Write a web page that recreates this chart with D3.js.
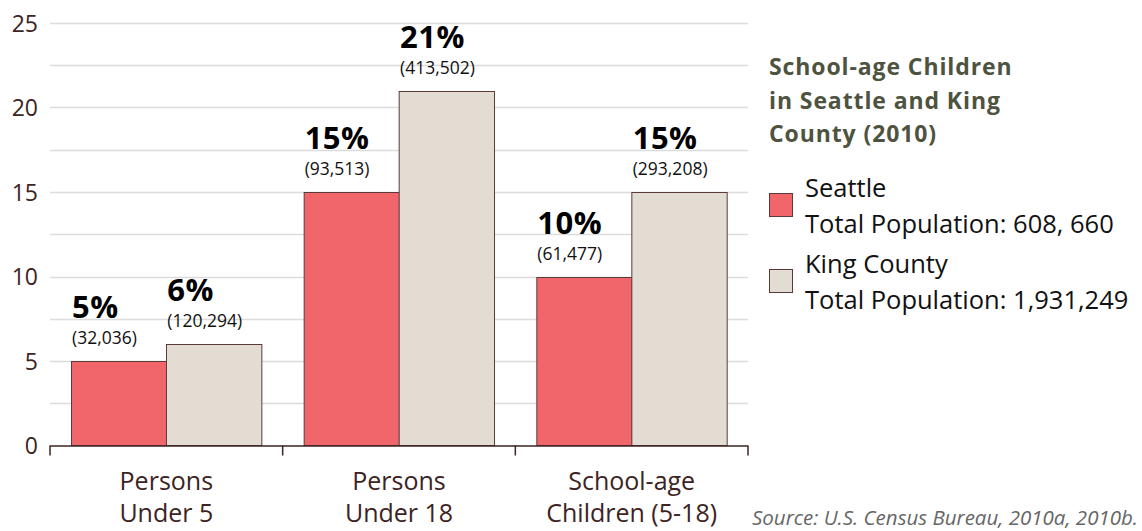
<!DOCTYPE html>
<html><head><meta charset="utf-8">
<script src="https://cdn.jsdelivr.net/npm/d3@7"></script>
<style>
body{margin:0;background:#fff;}
text{font-family:"Open Sans","Noto Sans",sans-serif;}
</style></head>
<body><svg id="chart" width="1142" height="531"></svg>
<script>
const categories = [["Persons","Under 5"],["Persons","Under 18"],["School-age","Children (5-18)"]];
const seriesNames = ["Seattle","King County"];
const seattleValues = [5,15,10];
const kingValues = [6,21,15];
const seattleCounts = ["(32,036)","(93,513)","(61,477)"];
const kingCounts = ["(120,294)","(413,502)","(293,208)"];
const yTicks = [0,5,10,15,20,25];
const gridValues = [2.5,5,7.5,10,12.5,15,17.5,20,22.5,25];
const legendTitle = ["School-age Children","in Seattle and King","County (2010)"];
const legendLabels = [["Seattle","Total Population: 608, 660"],["King County","Total Population: 1,931,249"]];
const sourceText = "Source: U.S. Census Bureau, 2010a, 2010b.";

const colors = ["#f0666a","#e3dcd3"];
const stroke = "#5b3a3a";
const dark = "#3d2322";

const svg = d3.select("#chart");
const mLeft = 50, mRight = 748, mTop = 23, mBottom = 445.5;

const y = d3.scaleLinear().domain([0,25]).range([mBottom, mTop]);
const x0 = d3.scaleBand().domain(d3.range(categories.length)).range([mLeft, mRight]).paddingInner(0).paddingOuter(0);
const x1 = d3.scaleBand().domain(d3.range(2)).range([0, x0.bandwidth()]).paddingOuter(0.22).paddingInner(0);

// grid
svg.append("g").selectAll("line").data(gridValues).join("line")
  .attr("x1", mLeft).attr("x2", mRight)
  .attr("y1", d=>Math.round(y(d))+0.5).attr("y2", d=>Math.round(y(d))+0.5)
  .attr("stroke","#dcdcdc").attr("stroke-width",1.5);

// y axis labels
const yAxis = d3.axisLeft(y).tickValues(yTicks).tickSize(0).tickPadding(12);
const ga = svg.append("g").attr("transform",`translate(${mLeft},0)`).call(yAxis);
ga.select(".domain").remove();
ga.selectAll("text").attr("font-size",23).attr("fill",dark).attr("font-family","Open Sans").attr("dy","0.35em");

// bars
const data = categories.map((c,i)=>({i, vals:[seattleValues[i], kingValues[i]], counts:[seattleCounts[i], kingCounts[i]]}));
const groups = svg.append("g").selectAll("g").data(data).join("g")
  .attr("transform", d=>`translate(${x0(d.i)},0)`);
groups.selectAll("rect").data(d=>d.vals.map((v,k)=>({v,k}))).join("rect")
  .attr("x", d=>Math.round(x1(d.k))+0.5)
  .attr("width", x1.bandwidth())
  .attr("y", d=>Math.round(y(d.v))+0.5)
  .attr("height", d=>mBottom - Math.round(y(d.v)) - 0.5)
  .attr("fill", d=>colors[d.k]).attr("stroke", stroke).attr("stroke-width",1);

groups.selectAll("text.pct").data(d=>d.vals.map((v,k)=>({v,k}))).join("text")
  .attr("class","pct")
  .attr("x", d=>x1(d.k)+1)
  .attr("y", d=>y(d.v)-43)
  .attr("font-size",31).attr("font-weight","bold").attr("fill","#000")
  .attr("letter-spacing",0.5)
  .text(d=>d.v+"%");
groups.selectAll("text.cnt").data(d=>d.counts.map((c,k)=>({c,k,v:d.vals[k]}))).join("text")
  .attr("class","cnt")
  .attr("x", d=>x1(d.k)+1)
  .attr("y", d=>y(d.v)-17)
  .attr("font-size",17.5).attr("fill","#111")
  .text(d=>d.c);

// x axis
const ax = svg.append("g");
ax.append("line").attr("x1",mLeft).attr("x2",mRight).attr("y1",mBottom+0.5).attr("y2",mBottom+0.5).attr("stroke",dark).attr("stroke-width",1.5);
const boundaries = d3.range(categories.length+1).map(i=> i<categories.length ? x0(i) : x0(i-1)+x0.bandwidth());
ax.selectAll("line.t").data(boundaries).join("line").attr("class","t")
  .attr("x1",d=>d).attr("x2",d=>d).attr("y1",mBottom).attr("y2",mBottom+10)
  .attr("stroke",dark).attr("stroke-width",1.5);
const xl = ax.selectAll("text.cat").data(categories).join("text").attr("class","cat")
  .attr("text-anchor","middle").attr("font-size",25).attr("fill",dark)
  .attr("transform",(d,i)=>`translate(${x0(i)+x0.bandwidth()/2},0)`);
xl.selectAll("tspan").data(d=>d).join("tspan").attr("x",0).attr("y",(d,j)=>490+j*32).text(d=>d);

// legend
svg.append("g").selectAll("text").data(legendTitle).join("text")
  .attr("x",769).attr("y",(d,i)=>75+i*33.5).attr("font-size",23).attr("font-weight","bold")
  .attr("letter-spacing",0.9).attr("fill","#4e5340").text(d=>d);
const lg = svg.append("g").selectAll("g").data(legendLabels).join("g")
  .attr("transform",(d,i)=>`translate(769,${193+i*76})`);
lg.append("rect").attr("x",0.5).attr("y",0.5).attr("width",23).attr("height",23)
  .attr("fill",(d,i)=>colors[i]).attr("stroke",stroke);
lg.selectAll("text").data(d=>d).join("text").attr("x",36).attr("y",(d,j)=>4+j*35.5)
  .attr("font-size",25.5).attr("fill","#111").text(d=>d);

svg.append("text").attr("x",1138).attr("y",525).attr("text-anchor","end")
  .attr("font-size",20.5).attr("font-style","italic").attr("fill","#666").text(sourceText);
</script></body></html>
